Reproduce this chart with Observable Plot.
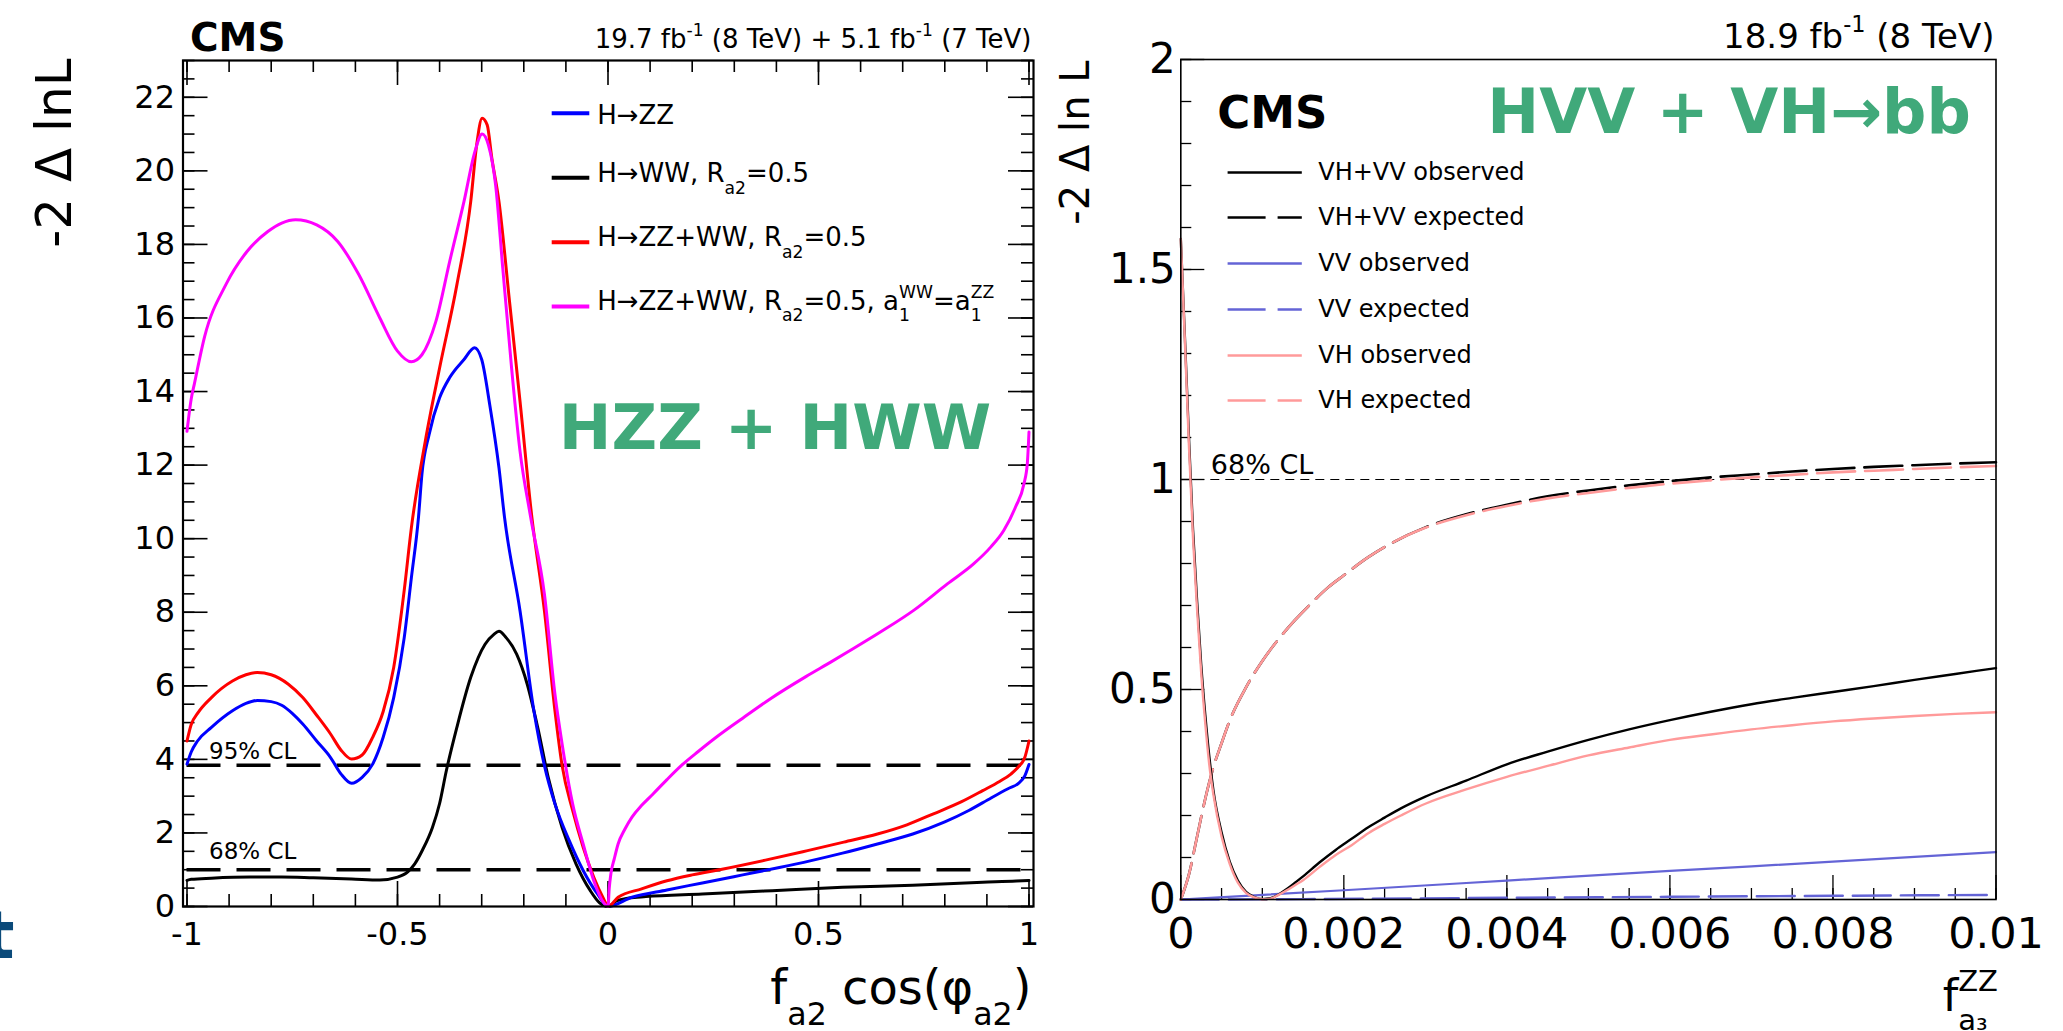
<!DOCTYPE html>
<html><head><meta charset="utf-8">
<script src="https://cdn.jsdelivr.net/npm/d3@7"></script>
<script src="https://cdn.jsdelivr.net/npm/@observablehq/plot@0.6"></script>
<style>
html,body{margin:0;padding:0;background:#fff;width:2063px;height:1031px;overflow:hidden;}
#left{position:absolute;left:0;top:0;width:1060px;height:1031px;}
#right{position:absolute;left:1060px;top:0;width:1003px;height:1031px;}
svg{overflow:visible}
</style></head><body>
<div id="left"></div><div id="right"></div>
<script>
// ---------------- LEFT PANEL DATA: -2 Δ lnL vs f_a2 cos(φ_a2) ----------------
const hzzX = [-1, -0.99, -0.975, -0.942, -0.892, -0.86, -0.833, -0.8, -0.775, -0.75, -0.725, -0.692, -0.659, -0.634, -0.609, -0.584, -0.559, -0.534, -0.509, -0.484, -0.467, -0.45, -0.442, -0.425, -0.40, -0.376, -0.342, -0.317, -0.30, -0.281, -0.259, -0.246, -0.209, -0.176, -0.151, -0.126, -0.092, -0.059, -0.025, 0, 0.057, 0.14, 0.224, 0.32, 0.407, 0.48, 0.557, 0.64, 0.724, 0.8, 0.857, 0.91, 0.95, 0.975, 0.99, 1.0];
const hzzY = [3.87, 4.2, 4.5, 4.87, 5.32, 5.52, 5.6, 5.57, 5.47, 5.25, 4.96, 4.5, 4.05, 3.6, 3.35, 3.51, 3.87, 4.6, 5.68, 7.31, 8.94, 10.6, 11.75, 12.83, 13.83, 14.38, 14.87, 15.19, 14.87, 13.65, 11.93, 10.6, 8.04, 5.32, 3.83, 2.79, 1.79, 0.98, 0.34, 0, 0.25, 0.45, 0.64, 0.86, 1.06, 1.24, 1.45, 1.7, 1.97, 2.3, 2.61, 2.95, 3.2, 3.35, 3.55, 3.86];

const hwwX = [-1, -0.99, -0.942, -0.85, -0.775, -0.7, -0.609, -0.542, -0.5, -0.475, -0.459, -0.44, -0.417, -0.40, -0.384, -0.359, -0.326, -0.292, -0.271, -0.259, -0.242, -0.217, -0.192, -0.167, -0.142, -0.109, -0.076, -0.042, -0.02, 0, 0.02, 0.05, 0.09, 0.224, 0.39, 0.557, 0.724, 0.89, 0.97, 1.0];
const hwwY = [0.71, 0.74, 0.77, 0.80, 0.80, 0.78, 0.75, 0.72, 0.80, 0.95, 1.16, 1.55, 2.15, 2.8, 3.69, 4.87, 6.23, 7.13, 7.40, 7.48, 7.31, 6.86, 6.05, 4.87, 3.51, 2.15, 1.16, 0.43, 0.1, 0, 0.15, 0.23, 0.27, 0.34, 0.43, 0.52, 0.58, 0.66, 0.69, 0.71];

const combX = [-1, -0.99, -0.975, -0.942, -0.892, -0.86, -0.833, -0.8, -0.76, -0.725, -0.692, -0.659, -0.634, -0.609, -0.584, -0.559, -0.534, -0.509, -0.484, -0.467, -0.434, -0.40, -0.359, -0.326, -0.312, -0.299, -0.287, -0.276, -0.259, -0.234, -0.209, -0.181, -0.151, -0.126, -0.109, -0.084, -0.059, -0.034, -0.01, 0, 0.024, 0.08, 0.14, 0.2, 0.274, 0.374, 0.474, 0.56, 0.64, 0.71, 0.773, 0.84, 0.89, 0.93, 0.957, 0.975, 0.99, 1.0];
const combY = [4.5, 4.95, 5.25, 5.68, 6.13, 6.3, 6.36, 6.3, 6.05, 5.68, 5.2, 4.69, 4.25, 4.01, 4.12, 4.6, 5.3, 6.5, 8.6, 10.3, 12.65, 14.64, 16.9, 19.17, 20.7, 21.43, 21.25, 20.35, 19.17, 16.46, 13.74, 10.6, 8.04, 5.32, 3.83, 2.61, 1.61, 0.80, 0.2, 0, 0.25, 0.48, 0.7, 0.86, 1.02, 1.26, 1.52, 1.75, 1.97, 2.22, 2.52, 2.85, 3.15, 3.4, 3.6, 3.8, 4.05, 4.5];

const combA1X = [-1, -0.99, -0.983, -0.958, -0.908, -0.858, -0.808, -0.775, -0.742, -0.692, -0.642, -0.592, -0.542, -0.5, -0.467, -0.442, -0.409, -0.376, -0.342, -0.316, -0.299, -0.284, -0.267, -0.25, -0.229, -0.209, -0.184, -0.151, -0.126, -0.109, -0.084, -0.059, -0.034, -0.01, 0, 0.003, 0.007, 0.015, 0.024, 0.04, 0.057, 0.08, 0.107, 0.14, 0.174, 0.215, 0.257, 0.32, 0.386, 0.47, 0.53, 0.568, 0.647, 0.726, 0.806, 0.869, 0.909, 0.94, 0.968, 0.988, 0.996, 1.0];
const combA1Y = [12.92, 13.8, 14.18, 15.5, 16.9, 17.8, 18.35, 18.58, 18.67, 18.53, 18.08, 17.18, 16.0, 15.1, 14.81, 15.0, 15.9, 17.54, 19.17, 20.53, 21.0, 20.7, 19.62, 17.36, 14.64, 12.38, 10.6, 8.49, 5.77, 4.42, 2.79, 1.70, 0.71, 0.1, 0, 0.5, 0.9, 1.3, 1.7, 2.1, 2.43, 2.75, 3.06, 3.45, 3.83, 4.22, 4.6, 5.12, 5.65, 6.25, 6.65, 6.91, 7.46, 8.05, 8.77, 9.32, 9.77, 10.22, 10.86, 11.49, 12.04, 12.9];

const clLevels = [1, 3.84];
const clLabels = ["68% CL", "95% CL"];
const leftXTicks = [-1, -0.5, 0, 0.5, 1];
const leftYTicks = [0, 2, 4, 6, 8, 10, 12, 14, 16, 18, 20, 22];
const leftXMinor = d3.range(-10, 11).map(i => i / 10);
const leftYMinor = d3.range(0, 47).map(i => i / 2);
const leftLegendLabels = ["H→ZZ", "H→WW, R_{a2}=0.5", "H→ZZ+WW, R_{a2}=0.5", "H→ZZ+WW, R_{a2}=0.5, a_{1}^{WW}=a_{1}^{ZZ}"];
const leftColors = ["#0000ff", "#000000", "#ff0000", "#ff00ff"];

// ---------------- RIGHT PANEL DATA: -2 Δ ln L vs f_a3^ZZ ----------------
const obsX = [0, 0.00005, 0.0001, 0.00015, 0.0002, 0.00025, 0.0003, 0.00035, 0.0004, 0.0005, 0.0006, 0.0007, 0.0008, 0.0009, 0.001, 0.0011, 0.0012, 0.0013, 0.0014, 0.0015, 0.0017, 0.0019, 0.0021, 0.0023, 0.0025, 0.0027, 0.003, 0.0035, 0.004, 0.0045, 0.005, 0.0055, 0.006, 0.0065, 0.007, 0.0075, 0.008, 0.0085, 0.009, 0.0095, 0.01];
const vhvvObsY = [1.573, 1.34, 1.1, 0.88, 0.71, 0.56, 0.44, 0.34, 0.26, 0.16, 0.09, 0.045, 0.018, 0.006, 0.001, 0.003, 0.012, 0.025, 0.04, 0.055, 0.088, 0.118, 0.145, 0.172, 0.195, 0.217, 0.245, 0.283, 0.322, 0.352, 0.38, 0.405, 0.427, 0.447, 0.465, 0.48, 0.494, 0.508, 0.523, 0.537, 0.551];
const vhObsY = [1.573, 1.33, 1.08, 0.86, 0.69, 0.54, 0.42, 0.32, 0.25, 0.15, 0.085, 0.04, 0.016, 0.005, 0.0005, 0.002, 0.011, 0.022, 0.034, 0.046, 0.077, 0.106, 0.13, 0.158, 0.18, 0.2, 0.228, 0.262, 0.292, 0.318, 0.343, 0.362, 0.38, 0.393, 0.405, 0.415, 0.424, 0.431, 0.437, 0.442, 0.446];
const expX = [0, 0.0001, 0.0002, 0.0003, 0.0004, 0.0005, 0.0006, 0.0008, 0.001, 0.0012, 0.0014, 0.0016, 0.0018, 0.002, 0.0023, 0.0026, 0.003, 0.0035, 0.004, 0.0045, 0.005, 0.0055, 0.006, 0.0065, 0.007, 0.0075, 0.008, 0.0085, 0.009, 0.0095, 0.01];
const vhvvExpY = [0, 0.06, 0.15, 0.24, 0.315, 0.372, 0.426, 0.505, 0.568, 0.62, 0.665, 0.705, 0.742, 0.772, 0.815, 0.85, 0.886, 0.917, 0.94, 0.96, 0.974, 0.986, 0.996, 1.005, 1.012, 1.019, 1.025, 1.03, 1.034, 1.038, 1.041];
const vhExpY = [0, 0.06, 0.15, 0.24, 0.315, 0.372, 0.426, 0.505, 0.568, 0.62, 0.665, 0.705, 0.742, 0.772, 0.815, 0.85, 0.885, 0.915, 0.937, 0.955, 0.968, 0.98, 0.99, 0.998, 1.005, 1.011, 1.017, 1.021, 1.025, 1.029, 1.032];
const vvObsX = [0, 0.002, 0.004, 0.006, 0.008, 0.01];
const vvObsY = [0, 0.022, 0.045, 0.068, 0.09, 0.113];
const vvExpX = [0, 0.0005, 0.0015, 0.004, 0.006, 0.008, 0.01];
const vvExpY = [0, 0.0, 0.001, 0.004, 0.0065, 0.0088, 0.011];

const rightCL = [1];
const rightXTicks = [0, 0.002, 0.004, 0.006, 0.008, 0.01];
const rightYTicks = [0, 0.5, 1, 1.5, 2];
const rightXMinor = d3.range(0, 21).map(i => i * 0.0005);
const rightYMinor = d3.range(0, 21).map(i => i / 10);
const rightLegendLabels = ["VH+VV observed", "VH+VV expected", "VV observed", "VV expected", "VH observed", "VH expected"];
const rightColors = ["#000000", "#000000", "#6464d6", "#6464d6", "#ff9a9a", "#ff9a9a"];
const rightDashed = [false, true, false, true, false, true];

// ---------------- helpers ----------------
const FONT = "DejaVu Sans";
const GREEN = "#40a97a";
const rows = (xs, ys) => xs.map((x, i) => ({x, y: ys[i]}));

function frameTicks(FW, FH, xMajor, xMinor, yMajor, yMinor, sides, majLen, minLen, sw) {
  const m = [];
  const st = {stroke: "black", strokeWidth: sw};
  if (sides.includes("left")) {
    m.push(Plot.tickY(yMinor, {y: d => d, insetRight: FW - minLen, ...st}));
    m.push(Plot.tickY(yMajor, {y: d => d, insetRight: FW - majLen, ...st}));
  }
  if (sides.includes("right")) {
    m.push(Plot.tickY(yMinor, {y: d => d, insetLeft: FW - minLen, ...st}));
    m.push(Plot.tickY(yMajor, {y: d => d, insetLeft: FW - majLen, ...st}));
  }
  if (sides.includes("bottom")) {
    m.push(Plot.tickX(xMinor, {x: d => d, insetTop: FH - minLen, ...st}));
    m.push(Plot.tickX(xMajor, {x: d => d, insetTop: FH - majLen, ...st}));
  }
  if (sides.includes("top")) {
    m.push(Plot.tickX(xMinor, {x: d => d, insetBottom: FH - minLen, ...st}));
    m.push(Plot.tickX(xMajor, {x: d => d, insetBottom: FH - majLen, ...st}));
  }
  return m;
}

function label(str, opts) {
  return Plot.text([str], {fontFamily: FONT, fill: "black", ...opts});
}

// rich text: _{sub} and ^{sup}, stacked when ^ follows _
function richify(svg) {
  const NS = "http://www.w3.org/2000/svg";
  svg.querySelectorAll("text").forEach(t => {
    const s = t.textContent;
    if (!/[_^]\{/.test(s)) return;
    const toks = [];
    let buf = "", i = 0;
    while (i < s.length) {
      const c = s[i];
      if ((c === "_" || c === "^") && s[i + 1] === "{") {
        if (buf) { toks.push({k: "n", s: buf}); buf = ""; }
        const j = s.indexOf("}", i);
        toks.push({k: c === "_" ? "sub" : "sup", s: s.slice(i + 2, j)});
        i = j + 1;
      } else { buf += c; i++; }
    }
    if (buf) toks.push({k: "n", s: buf});
    t.textContent = "";
    const fs = parseFloat(getComputedStyle(t).fontSize);
    let cur = 0, pendingDx = 0, prev = null;
    toks.forEach(tok => {
      const ts = document.createElementNS(NS, "tspan");
      ts.textContent = tok.s;
      const target = tok.k === "sub" ? 0.45 * fs : tok.k === "sup" ? -0.45 * fs : 0;
      if (target !== cur) ts.setAttribute("dy", target - cur);
      cur = target;
      if (tok.k !== "n") ts.setAttribute("font-size", 0.66 * fs);
      t.appendChild(ts);
      const len = ts.getComputedTextLength();
      let dx = pendingDx; pendingDx = 0;
      if (tok.k === "sup" && prev && prev.k === "sub") {
        dx -= prev.len;
        if (prev.len > len) pendingDx = prev.len - len;
      }
      if (dx) ts.setAttribute("dx", dx);
      prev = {k: tok.k, len};
    });
  });
}

// ---------------- LEFT PLOT ----------------
const LW = 1060, LH = 1031, LML = 182.5, LMR = 27, LMT = 60, LMB = 125;
const LFW = LW - LML - LMR, LFH = LH - LMT - LMB;
const lCenter = LFH / 2;
const leftLegendLineY = [52.7, 117.3, 181.7, 246];
const leftLegendTextY = [63.3, 121.7, 185.7, 249];

const leftPlot = Plot.plot({
  width: LW, height: LH,
  marginLeft: LML, marginRight: LMR, marginTop: LMT, marginBottom: LMB,
  style: {fontFamily: FONT, background: "white"},
  x: {domain: [-1.0095, 1.0107]},
  y: {domain: [0, 23]},
  marks: [
    ...frameTicks(LFW, LFH, leftXTicks, leftXMinor, leftYTicks, leftYMinor, ["left", "right", "top", "bottom"], 25, 12, 1.6),
    Plot.ruleY(clLevels, {y: d => d, x1: -1, x2: 1, stroke: "black", strokeWidth: 3.5, strokeDasharray: "34,16"}),
    Plot.line(rows(hwwX, hwwY), {x: "x", y: "y", stroke: leftColors[1], strokeWidth: 3, curve: "monotone-x"}),
    Plot.line(rows(hzzX, hzzY), {x: "x", y: "y", stroke: leftColors[0], strokeWidth: 3, curve: "monotone-x"}),
    Plot.line(rows(combX, combY), {x: "x", y: "y", stroke: leftColors[2], strokeWidth: 3, curve: "monotone-x"}),
    Plot.line(rows(combA1X, combA1Y), {x: "x", y: "y", stroke: leftColors[3], strokeWidth: 3, curve: "monotone-x"}),
    Plot.frame({stroke: "black", strokeWidth: 2.2}),
    Plot.axisY(leftYTicks, {anchor: "left", tickSize: 0, tickPadding: 8, tickFormat: d => String(d), fontSize: 32, fontFamily: FONT, label: null}),
    Plot.axisX(leftXTicks, {anchor: "bottom", tickSize: 0, tickPadding: 16, tickFormat: d => String(d), fontSize: 32, fontFamily: FONT, label: null}),
    // CL labels
    label(clLabels[1], {frameAnchor: "top-left", dx: 26, dy: 698, textAnchor: "start", lineAnchor: "bottom", fontSize: 23}),
    label(clLabels[0], {frameAnchor: "top-left", dx: 26, dy: 798, textAnchor: "start", lineAnchor: "bottom", fontSize: 23}),
    // legend
    ...leftLegendLabels.map((l, i) => Plot.ruleY([0], {y: null, dy: leftLegendLineY[i] - lCenter, insetLeft: 369.2, insetRight: LFW - 406.8, stroke: leftColors[i], strokeWidth: 4})),
    ...leftLegendLabels.map((l, i) => label(l, {frameAnchor: "top-left", dx: 414.2, dy: leftLegendTextY[i], textAnchor: "start", lineAnchor: "bottom", fontSize: 26})),
    // headers
    label("CMS", {frameAnchor: "top-left", dx: 7, dy: -10, textAnchor: "start", lineAnchor: "bottom", fontSize: 39, fontWeight: "bold"}),
    label("19.7 fb^{-1} (8 TeV) + 5.1 fb^{-1} (7 TeV)", {frameAnchor: "top-right", dx: -2, dy: -13, textAnchor: "end", lineAnchor: "bottom", fontSize: 26}),
    label("HZZ + HWW", {frameAnchor: "top-left", dx: 592, dy: 388, textAnchor: "middle", lineAnchor: "bottom", fontSize: 63, fontWeight: "bold", fill: GREEN}),
    // axis titles
    label("-2 Δ lnL", {frameAnchor: "top-left", dx: -128, dy: -2, rotate: -90, textAnchor: "end", lineAnchor: "middle", fontSize: 50}),
    label("f_{a2} cos(φ_{a2})", {frameAnchor: "bottom-right", dx: -2, dy: 97, textAnchor: "end", lineAnchor: "bottom", fontSize: 48}),
    // cropped slide letter at the far left
    label("t", {frameAnchor: "bottom-left", dx: -168.5, dy: 51, textAnchor: "end", lineAnchor: "bottom", fontSize: 66, fontWeight: "bold", fill: "#0b4a7a"})
  ]
});
document.getElementById("left").appendChild(leftPlot);
richify(leftPlot);

// ---------------- RIGHT PLOT ----------------
const RW = 1003, RH = 1031, RML = 120.3, RMR = 67.5, RMT = 59, RMB = 132;
const RFW = RW - RML - RMR, RFH = RH - RMT - RMB;
const rCenter = RFH / 2;
const rightLegendY = [113, 158, 204, 250, 296, 341];

const rightPlot = Plot.plot({
  width: RW, height: RH,
  marginLeft: RML, marginRight: RMR, marginTop: RMT, marginBottom: RMB,
  style: {fontFamily: FONT, background: "white"},
  x: {domain: [0, 0.01]},
  y: {domain: [0, 2]},
  marks: [
    ...frameTicks(RFW, RFH, rightXTicks, rightXMinor, rightYTicks, rightYMinor, ["left", "bottom"], 24, 11, 1.3),
    Plot.ruleY(rightCL, {y: d => d, stroke: "black", strokeWidth: 1.2, strokeDasharray: "9,6"}),
    Plot.line(rows(vvExpX, vvExpY), {x: "x", y: "y", stroke: rightColors[3], strokeWidth: 2.4, strokeDasharray: "38,10", curve: "monotone-x"}),
    Plot.line(rows(vvObsX, vvObsY), {x: "x", y: "y", stroke: rightColors[2], strokeWidth: 2.2, curve: "monotone-x"}),
    Plot.line(rows(expX, vhvvExpY), {x: "x", y: "y", stroke: rightColors[1], strokeWidth: 2.6, strokeDasharray: "38,10", curve: "monotone-x"}),
    Plot.line(rows(expX, vhExpY), {x: "x", y: "y", stroke: rightColors[5], strokeWidth: 2.6, strokeDasharray: "38,10", curve: "monotone-x"}),
    Plot.line(rows(obsX, vhvvObsY), {x: "x", y: "y", stroke: rightColors[0], strokeWidth: 2.4, curve: "monotone-x"}),
    Plot.line(rows(obsX, vhObsY), {x: "x", y: "y", stroke: rightColors[4], strokeWidth: 2.4, curve: "monotone-x"}),
    Plot.frame({stroke: "black", strokeWidth: 1.6}),
    Plot.axisY(rightYTicks, {anchor: "left", tickSize: 0, tickPadding: 5, tickFormat: d => String(d), fontSize: 42, fontFamily: FONT, label: null}),
    Plot.axisX(rightXTicks, {anchor: "bottom", tickSize: 0, tickPadding: 18, tickFormat: d => String(d), fontSize: 43, fontFamily: FONT, label: null}),
    label("68% CL", {frameAnchor: "top-left", dx: 30, dy: 414, textAnchor: "start", lineAnchor: "bottom", fontSize: 27}),
    // legend
    ...rightLegendLabels.map((l, i) => Plot.ruleY([0], {y: null, dy: rightLegendY[i] - rCenter, insetLeft: 47.3, insetRight: RFW - 121.5, stroke: rightColors[i], strokeWidth: 2.6, strokeDasharray: rightDashed[i] ? "38,12" : null})),
    ...rightLegendLabels.map((l, i) => label(l, {frameAnchor: "top-left", dx: 137.5, dy: rightLegendY[i], textAnchor: "start", lineAnchor: "middle", fontSize: 24})),
    // headers
    label("CMS", {frameAnchor: "top-left", dx: 36.4, dy: 68, textAnchor: "start", lineAnchor: "bottom", fontSize: 45, fontWeight: "bold"}),
    label("HVV + VH→bb", {frameAnchor: "top-left", dx: 548.3, dy: 73, textAnchor: "middle", lineAnchor: "bottom", fontSize: 62, fontWeight: "bold", fill: GREEN}),
    label("18.9 fb^{-1} (8 TeV)", {frameAnchor: "top-right", dx: -1.5, dy: -12, textAnchor: "end", lineAnchor: "bottom", fontSize: 34}),
    // axis titles
    label("-2 Δ ln L", {frameAnchor: "top-left", dx: -105, dy: 1, rotate: -90, textAnchor: "end", lineAnchor: "middle", fontSize: 40}),
    label("f_{a₃}^{ZZ}", {frameAnchor: "bottom-right", dx: 2, dy: 111, textAnchor: "end", lineAnchor: "bottom", fontSize: 44})
  ]
});
document.getElementById("right").appendChild(rightPlot);
richify(rightPlot);
</script></body></html>
